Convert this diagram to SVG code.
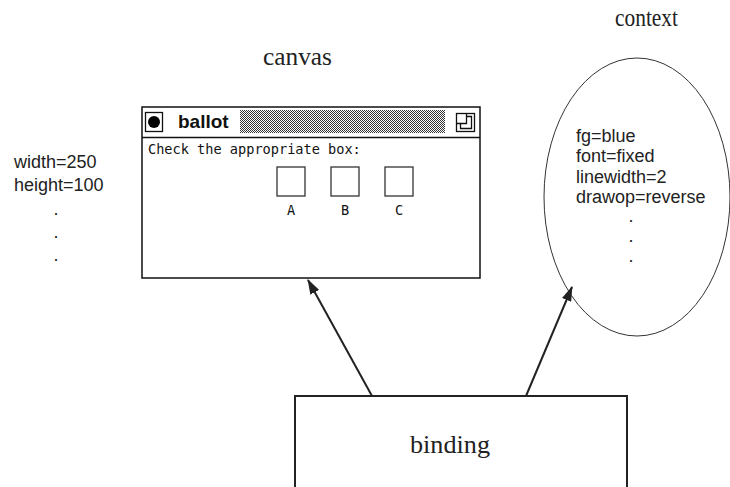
<svg xmlns="http://www.w3.org/2000/svg" width="730" height="487" viewBox="0 0 730 487">
<style>
.serif{font-family:"Liberation Serif","DejaVu Serif",serif;font-size:25px;fill:#222}
.sans{font-family:"Liberation Sans",Arial,sans-serif;font-size:18px;fill:#222}
.mono{font-family:"DejaVu Sans Mono","Liberation Mono",monospace;font-size:13.6px;fill:#111}
.line{fill:none;stroke:#222;stroke-width:2}
.box{fill:#fff;stroke:#333;stroke-width:1.3}
</style>
<defs>
<pattern id="stipple" width="2" height="2" patternUnits="userSpaceOnUse">
<rect width="2" height="2" fill="#fff"/>
<rect width="1" height="1" fill="#333"/>
<rect x="1" y="1" width="1" height="1" fill="#333"/>
</pattern>
<marker id="arr" viewBox="0 0 15 10" refX="14" refY="5" markerWidth="15" markerHeight="10" markerUnits="userSpaceOnUse" orient="auto">
<path d="M0,0 L15,5 L0,10 Z" fill="#222"/>
</marker>
</defs>
<text class="serif" x="263" y="65" textLength="69" lengthAdjust="spacingAndGlyphs">canvas</text>
<text class="serif" x="615" y="26" textLength="63" lengthAdjust="spacingAndGlyphs">context</text>
<g id="props">
<text class="sans" x="14" y="168">width=250</text>
<text class="sans" x="14" y="191">height=100</text>
<text class="sans" x="56" y="215" text-anchor="middle">.</text>
<text class="sans" x="56" y="238" text-anchor="middle">.</text>
<text class="sans" x="56" y="261" text-anchor="middle">.</text>
</g>
<g id="canvas">
<rect x="142" y="107" width="338" height="171" fill="#fff" stroke="#111" stroke-width="1.5"/>
<line x1="142" y1="137.5" x2="480" y2="137.5" stroke="#111" stroke-width="1.5"/>
<rect x="145.5" y="112.5" width="17" height="19" fill="none" stroke="#111" stroke-width="1.3"/>
<circle cx="154" cy="122" r="6" fill="#000"/>
<text x="178" y="128" font-family="Liberation Sans,Arial,sans-serif" font-weight="bold" font-size="19" fill="#111">ballot</text>
<rect x="240" y="110" width="205" height="23" fill="url(#stipple)"/>
<g fill="none" stroke="#111" stroke-width="1.3">
<rect x="456.5" y="113.5" width="18" height="18"/>
<polyline points="456.5,123.5 466.5,123.5 466.5,113.5"/>
<polyline points="460.5,123.5 460.5,128.5 471.5,128.5 471.5,116.5 466.5,116.5"/>
</g>
<text class="mono" x="148" y="154">Check the appropriate box:</text>
<rect class="box" x="277" y="167" width="28" height="29"/>
<rect class="box" x="331" y="167" width="28" height="29"/>
<rect class="box" x="385" y="167" width="28" height="29"/>
<text class="mono" x="291" y="215" text-anchor="middle">A</text>
<text class="mono" x="345" y="215" text-anchor="middle">B</text>
<text class="mono" x="399" y="215" text-anchor="middle">C</text>
</g>
<g id="context">
<ellipse cx="637" cy="197" rx="93" ry="139" fill="#fff" stroke="#333" stroke-width="1"/>
<text class="sans" x="576" y="142">fg=blue</text>
<text class="sans" x="576" y="162">font=fixed</text>
<text class="sans" x="576" y="183">linewidth=2</text>
<text class="sans" x="576" y="203">drawop=reverse</text>
<text class="sans" x="631" y="222" text-anchor="middle">.</text>
<text class="sans" x="631" y="242" text-anchor="middle">.</text>
<text class="sans" x="631" y="262" text-anchor="middle">.</text>
</g>
<g id="binding">
<rect x="295" y="396" width="332" height="100" fill="#fff" stroke="#222" stroke-width="2"/>
<text class="serif" x="410" y="453" textLength="80" lengthAdjust="spacingAndGlyphs">binding</text>
</g>
<g id="connectors">
<line class="line" x1="372" y1="396" x2="308" y2="280" marker-end="url(#arr)"/>
<line class="line" x1="526" y1="396" x2="572" y2="287" marker-end="url(#arr)"/>
</g>
</svg>
